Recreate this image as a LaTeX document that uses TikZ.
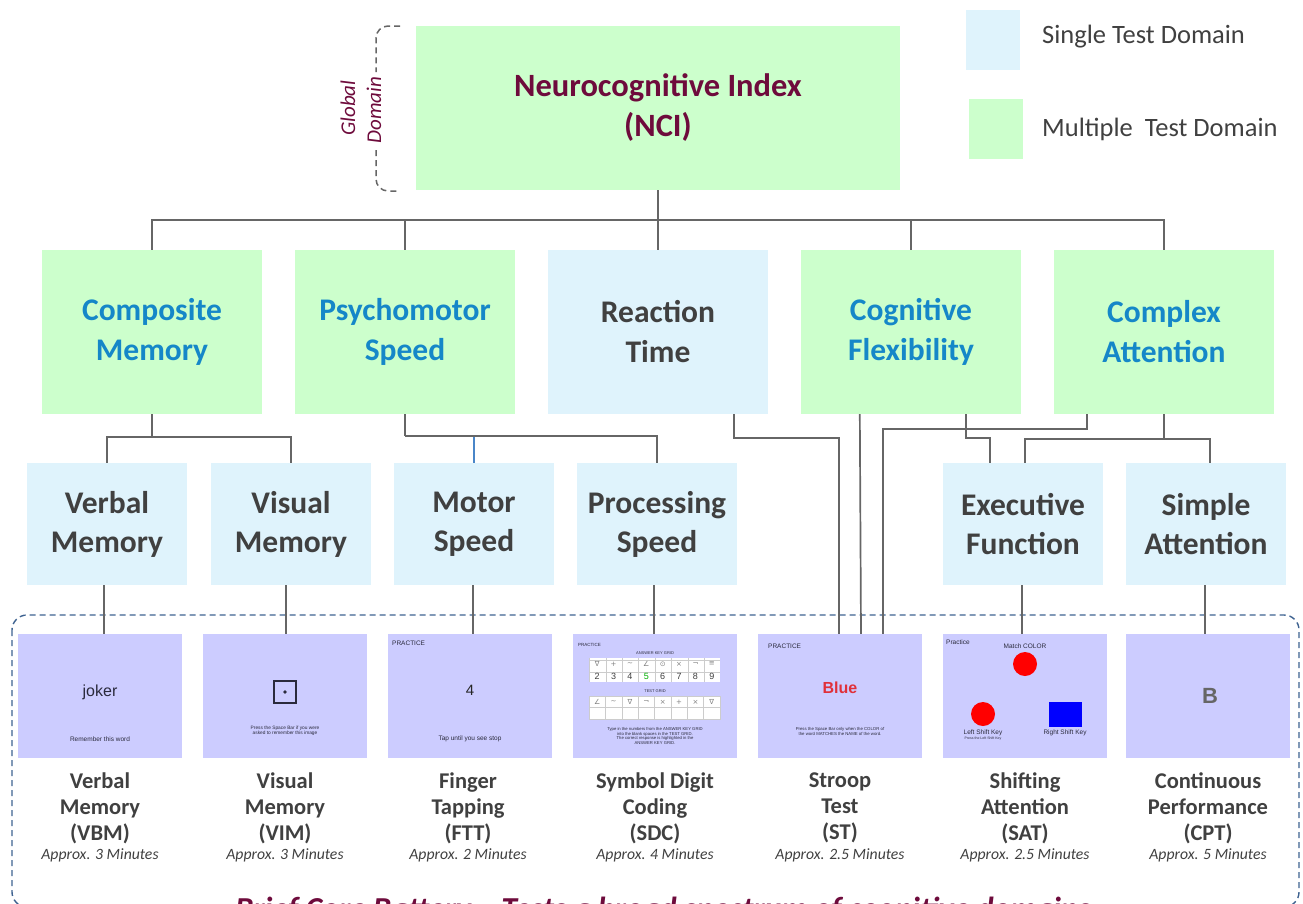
\documentclass[tikz,border=0pt]{standalone}
\usepackage{fontspec}
\setmainfont{Carlito}
\newfontfamily\arialf{Liberation Sans}
\newfontfamily\dejav{DejaVu Sans}
\usetikzlibrary{calc}
\definecolor{gfill}{HTML}{CCFFCC}
\definecolor{bfill}{HTML}{DFF3FC}
\definecolor{shotc}{HTML}{CCCCFF}
\definecolor{maroonc}{HTML}{6E0B3C}
\definecolor{tblue}{HTML}{1587C8}
\definecolor{tgray}{HTML}{404040}
\definecolor{lgray}{HTML}{666666}
\definecolor{framec}{HTML}{3E6290}
\definecolor{shottext}{HTML}{2A2A3C}
\definecolor{bluered}{HTML}{E0303A}
\definecolor{msblue}{HTML}{4A86C8}
\newcommand\myfs[2]{\fontsize{#1}{#2}\selectfont}
\begin{document}
\begin{tikzpicture}[x=1pt,y=-1pt,
  box/.style={minimum width=220pt, minimum height=164pt, inner sep=0pt, align=center, font=\myfs{31.5}{40}\bfseries},
  gbox/.style={box, fill=gfill, text=tblue},
  bbox/.style={box, fill=bfill, text=tgray},
  sbox/.style={fill=bfill, minimum width=160pt, minimum height=122pt, inner sep=0pt, align=center, text=tgray, font=\myfs{31.5}{39}\bfseries},
  shotbox/.style={fill=shotc, minimum width=164pt, minimum height=124pt, inner sep=0pt},
  legsq/.style={minimum width=54pt, minimum height=60pt, inner sep=0pt},
  lab/.style={align=center, text=tgray, font=\myfs{22.5}{26}\bfseries},
  approx/.style={text=tgray, font=\myfs{15.7}{17}\itshape},
  conn/.style={draw=lgray, line width=1.7pt},
  bracket/.style={lgray, line width=1.5pt, dash pattern=on 6pt off 4pt, rounded corners=12pt},
  tiny/.style={font=\arialf\myfs{4.8}{5.2}, text=shottext, align=center, inner sep=0pt},
]
\useasboundingbox (0,0) rectangle (1303,903);
\clip (0,0) rectangle (1303,903);

% legend
\node[legsq, fill=bfill] (legs) at (993,40) {};
\node[legsq, fill=gfill] (legm) at (996,129) {};
\node[anchor=west, text=tgray, font=\myfs{26.5}{28}, inner sep=0pt] (legst) at (1042,37) {Single Test Domain};
\node[anchor=west, text=tgray, font=\myfs{26.5}{28}, inner sep=0pt] (legmt) at (1042,129) {Multiple\ \ Test Domain};

% top
\node[box, fill=gfill, text=maroonc, minimum width=484pt, font=\myfs{32.5}{40}\bfseries] (nci) at (658,108) {Neurocognitive Index\\(NCI)};
\draw[bracket] (400,26) -- (376,26) -- (376,72);
\draw[bracket] (376,150) -- (376,191) -- (400,191);
\node[rotate=90, text=maroonc, font=\myfs{21}{22}\itshape, inner sep=0pt] (glob) at (348,108) {Global};
\node[rotate=90, text=maroonc, font=\myfs{21}{22}\itshape, inner sep=0pt] (dom) at (374,110) {Domain};

% level 2
\node[gbox] (cm) at (152,332) {Composite\\Memory};
\node[gbox] (psy) at (405,332) {Psychomotor\\Speed};
\node[bbox] (rt) at (658,332) {Reaction\\Time};
\node[gbox] (cf) at (911,332) {Cognitive\\Flexibility};
\node[gbox] (ca) at (1164,332) {Complex\\Attention};

% level 3
\node[sbox] (vm) at (107,524) {Verbal\\Memory};
\node[sbox] (vim) at (291,524) {Visual\\Memory};
\node[sbox] (ms) at (474,524) {Motor\\Speed};
\node[sbox] (prs) at (657,524) {Processing\\Speed};
\node[sbox] (ef) at (1023,524) {Executive\\Function};
\node[sbox] (sa) at (1206,524) {Simple\\Attention};

% bottom frame
\draw[framec, line width=1.4pt, dash pattern=on 6pt off 4pt, rounded corners=15pt] (12,615) rectangle (1299,907);

% screenshots
\node[shotbox] (s1) at (100,696) {};
\node[shotbox] (s2) at (285,696) {};
\node[shotbox] (s3) at (470,696) {};
\node[shotbox] (s4) at (655,696) {};
\node[shotbox] (s5) at (840,696) {};
\node[shotbox] (s6) at (1025,696) {};
\node[shotbox] (s7) at (1208,696) {};

% connectors top
\draw[conn] (nci.south) -- (rt.north);
\draw[conn] (cm.north) -- ++(0,-30) -| (ca.north);
\draw[conn] (psy.north) -- ++(0,-30);
\draw[conn] (cf.north) -- ++(0,-30);

% level 2 -> 3
\draw[conn] (cm.south) -- ++(0,22);
\draw[conn] (vm.north) -- ++(0,-26) -| (vim.north);
\draw[conn] (psy.south) -- ++(0,22);
\draw[conn] ($(psy.south)+(0,22)$) -| (prs.north);
\draw[draw=msblue, line width=1.7pt] (ms.north) -- ++(0,-26);
\draw[conn] ($(rt.south east)+(-34,0)$) -- ++(0,24) -| ($(s5.north)+(-1,0)$);
\draw[conn] ($(cf.south west)+(59,0)$) -- ($(s5.north)+(21,0)$);
\draw[conn] ($(ca.south west)+(33,0)$) -- ++(0,15) -| ($(s5.north)+(43,0)$);
\draw[conn] ($(cf.south west)+(165,0)$) -- ++(0,24) -| ($(ef.north west)+(47,0)$);
\draw[conn] (ca.south) -- ++(0,24);
\draw[conn] ($(ef.north)+(2,0)$) -- ++(0,-24) -| ($(sa.north)+(4,0)$);

% level 3 -> screenshots
\draw[conn] ($(vm.south)+(-3,0)$) -- ($(vm.south |- s1.north)+(-3,0)$);
\draw[conn] ($(vim.south)+(-5,0)$) -- ($(vim.south |- s2.north)+(-5,0)$);
\draw[conn] ($(ms.south)+(-1,0)$) -- ($(ms.south |- s3.north)+(-1,0)$);
\draw[conn] ($(prs.south)+(-3,0)$) -- ($(prs.south |- s4.north)+(-3,0)$);
\draw[conn] ($(ef.south)+(-1,0)$) -- ($(ef.south |- s6.north)+(-1,0)$);
\draw[conn] ($(sa.south)+(-1,0)$) -- ($(sa.south |- s7.north)+(-1,0)$);

% screenshot contents
% VBM
\node[font=\arialf\myfs{16}{18}, text=shottext, inner sep=0pt] (t1a) at (100,692) {joker};
\node[tiny, font=\arialf\myfs{6.5}{7}] (t1b) at (100,739) {Remember this word};
% VIM
\draw[shottext, line width=1.6pt] (274,681) rectangle (296,703);
\fill[shottext] (285,692) circle (1.9pt);
\node[tiny] (t2a) at (285,731) {Press the Space Bar if you were\\asked to remember this image};
% FTT
\node[tiny, anchor=west, font=\arialf\myfs{6.5}{7}] (t3a) at (392,643) {PRACTICE};
\node[font=\arialf\myfs{15}{16}, text=black!85, inner sep=0pt] (t3b) at (470,690) {4};
\node[tiny, font=\arialf\myfs{6.5}{7}] (t3c) at (470,739) {Tap until you see stop};
% SDC
\node[tiny, anchor=west, font=\arialf\myfs{4.5}{5}] (t4a) at (578,645) {PRACTICE};
\node[tiny, font=\arialf\myfs{4}{5}] (t4b) at (655,653) {ANSWER KEY GRID};
\fill[white] (589,658) rectangle (720,682);
\fill[white] (589,696) rectangle (720,719);
\draw[gray!40, line width=0.4pt] (589,658) grid[xstep=16.375pt, ystep=12pt] (720,682);
\draw[gray!40, line width=0.4pt] (589,696) rectangle (720,719) (589,707.5) -- (720,707.5);
\foreach \i in {1,...,7} \draw[gray!40, line width=0.4pt] ({589+16.375*\i},696) -- ({589+16.375*\i},719);
\foreach \s [count=\i] in {∇,+,∼,∠,⊙,×,¬,≡}
  \node[inner sep=0pt, font=\dejav\myfs{7}{8}, text=gray] at ({589+16.375*(\i-0.5)},664) {\s};
\foreach \s [count=\i] in {2,3,4,6,7,8,9}
  \node[inner sep=0pt, font=\arialf\myfs{9}{10}, text=black!75] at ({589+16.375*(\i-0.5+(\i>3))},676) {\s};
\node[inner sep=0pt, font=\arialf\myfs{9}{10}, text=green!70!black] at ({589+16.375*3.5},676) {5};
\node[tiny, font=\arialf\myfs{4}{5}] (t4c) at (655,691) {TEST GRID};
\foreach \s [count=\i] in {∠,∼,∇,¬,×,+,×,∇}
  \node[inner sep=0pt, font=\dejav\myfs{7}{8}, text=gray] at ({589+16.375*(\i-0.5)},702) {\s};
\node[tiny, font=\arialf\myfs{4.2}{4.7}] (t4d) at (655,736) {Type in the numbers from the ANSWER KEY GRID\\into the blank spaces in the TEST GRID.\\The correct response is highlighted in the\\ANSWER KEY GRID.};
% ST
\node[tiny, anchor=west, font=\arialf\myfs{6.5}{7}] (t5a) at (768,646) {PRACTICE};
\node[font=\arialf\myfs{16}{18}\bfseries, text=bluered, inner sep=0pt] (t5b) at (840,688) {Blue};
\node[tiny, font=\arialf\myfs{4.3}{5}] (t5c) at (840,731.5) {Press the Space Bar only when the COLOR of\\the word MATCHES the NAME of the word.};
% SAT
\node[tiny, anchor=west, font=\arialf\myfs{6.5}{7}] (t6a) at (946,642) {Practice};
\node[tiny, font=\arialf\myfs{6.5}{7}] (t6b) at (1025,646) {Match COLOR};
\fill[red] (1025,664) circle (12pt);
\fill[red] (983,714) circle (12pt);
\fill[blue] (1049,702) rectangle (1082,727);
\node[tiny, font=\arialf\myfs{6.5}{7}] (t6c) at (983,733) {Left Shift Key};
\node[tiny, font=\arialf\myfs{3.5}{4}] (t6d) at (983,738.5) {Press the Left Shift Key};
\node[tiny, font=\arialf\myfs{6.5}{7}] (t6e) at (1065,733) {Right Shift Key};
% CPT
\node[font=\arialf\myfs{22}{24}\bfseries, text=black!60, inner sep=0pt] (t7a) at (1210,696) {B};

% labels
\node[lab] (l1) at (100,808) {Verbal\\Memory\\(VBM)};
\node[lab] (l2) at (285,808) {Visual\\Memory\\(VIM)};
\node[lab] (l3) at (468,808) {Finger\\Tapping\\(FTT)};
\node[lab] (l4) at (655,808) {Symbol Digit\\Coding\\(SDC)};
\node[lab] (l5) at (840,808) {Stroop\\Test\\(ST)};
\node[lab] (l6) at (1025,808) {Shifting\\Attention\\(SAT)};
\node[lab] (l7) at (1208,808) {Continuous\\Performance\\(CPT)};
\node[approx] (a1) at (100,855) {Approx. 3 Minutes};
\node[approx] (a2) at (285,855) {Approx. 3 Minutes};
\node[approx] (a3) at (468,855) {Approx. 2 Minutes};
\node[approx] (a4) at (655,855) {Approx. 4 Minutes};
\node[approx] (a5) at (840,855) {Approx. 2.5 Minutes};
\node[approx] (a6) at (1025,855) {Approx. 2.5 Minutes};
\node[approx] (a7) at (1208,855) {Approx. 5 Minutes};

% caption
\node[anchor=base, text=maroonc, font=\myfs{32}{34}\bfseries\itshape, inner sep=0pt] (cap) at (663,919) {Brief Core Battery -- Tests a broad spectrum of cognitive domains};
\end{tikzpicture}
\end{document}
